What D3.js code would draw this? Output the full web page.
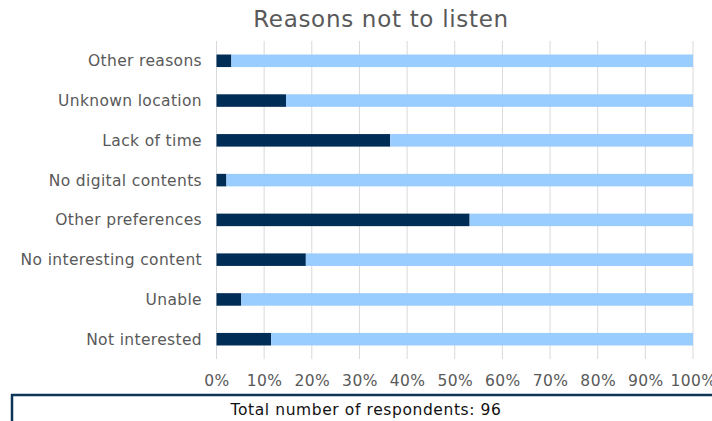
<!DOCTYPE html>
<html>
<head>
<meta charset="utf-8">
<script src="https://cdn.jsdelivr.net/npm/d3@7"></script>
<style>
  html, body { margin: 0; padding: 0; background: #ffffff; }
  svg { display: block; font-family: "DejaVu Sans", "Noto Sans", sans-serif; }
</style>
</head>
<body>
<svg id="chart" width="712" height="421"></svg>
<script>
// Reasons for not listening, counted among 96 respondents
const categories = [
  "Other reasons",
  "Unknown location",
  "Lack of time",
  "No digital contents",
  "Other preferences",
  "No interesting content",
  "Unable",
  "Not interested"
];
const counts = [3, 14, 35, 2, 51, 18, 5, 11];
const totalRespondents = 96;
const tickValues = [0, 0.1, 0.2, 0.3, 0.4, 0.5, 0.6, 0.7, 0.8, 0.9, 1];

const yes = counts.map(c => c / totalRespondents);
const rest = yes.map(v => 1 - v);

const svg = d3.select("#chart");
const margin = { left: 216.5, right: 19, top: 41, bottom: 62 };
const W = 712, H = 421;

const x = d3.scaleLinear().domain([0, 1]).range([margin.left, W - margin.right]);
const y = d3.scaleBand().domain(categories).range([margin.top, H - margin.bottom]).paddingInner(0.685).paddingOuter(0.34);

// Title
svg.append("text")
  .attr("x", 381).attr("y", 27)
  .attr("text-anchor", "middle")
  .attr("fill", "#595959")
  .style("font-size", "23px")
  .style("letter-spacing", "0.7px")
  .text("Reasons not to listen");

// Vertical gridlines
svg.append("g")
  .selectAll("line")
  .data(tickValues)
  .join("line")
  .attr("x1", d => x(d)).attr("x2", d => x(d))
  .attr("y1", margin.top).attr("y2", H - margin.bottom)
  .attr("stroke", "#d9d9d9").attr("stroke-width", 1);

// Stacked bars
const rows = categories.map((c, i) => ({ c, a: yes[i], b: rest[i] }));
const g = svg.append("g");
g.selectAll("rect.a").data(rows).join("rect")
  .attr("class", "a")
  .attr("x", x(0)).attr("y", d => y(d.c))
  .attr("width", d => x(d.a) - x(0)).attr("height", y.bandwidth())
  .attr("fill", "#002d55");
g.selectAll("rect.b").data(rows).join("rect")
  .attr("class", "b")
  .attr("x", d => x(d.a)).attr("y", d => y(d.c))
  .attr("width", d => x(d.a + d.b) - x(d.a)).attr("height", y.bandwidth())
  .attr("fill", "#99ccff");

// Category labels
svg.append("g")
  .selectAll("text")
  .data(categories)
  .join("text")
  .attr("x", 202)
  .attr("y", d => y(d) + y.bandwidth() / 2)
  .attr("dy", "0.35em")
  .attr("text-anchor", "end")
  .attr("fill", "#595959")
  .style("font-size", "15.5px")
  .style("letter-spacing", "0.35px")
  .text(d => d);

// Percentage axis
const xAxis = d3.axisBottom(x).tickValues(tickValues).tickFormat(d3.format(".0%")).tickSize(0).tickPadding(0);
const ax = svg.append("g").attr("transform", `translate(0,${H - margin.bottom})`).call(xAxis);
ax.select(".domain").remove();
ax.selectAll("text")
  .attr("y", 27)
  .attr("dy", 0)
  .attr("fill", "#595959")
  .style("font-family", "'DejaVu Sans', sans-serif")
  .style("font-size", "15.5px")
  .style("letter-spacing", "0.4px");

// Respondent count box
svg.append("rect")
  .attr("x", 12).attr("y", 395)
  .attr("width", 720).attr("height", 60)
  .attr("fill", "none")
  .attr("stroke", "#0d3557").attr("stroke-width", 2.5);
svg.append("text")
  .attr("x", 366).attr("y", 415)
  .attr("text-anchor", "middle")
  .attr("fill", "#111111")
  .style("font-size", "15.5px")
  .style("letter-spacing", "0.6px")
  .text(`Total number of respondents: ${totalRespondents}`);
</script>
</body>
</html>
